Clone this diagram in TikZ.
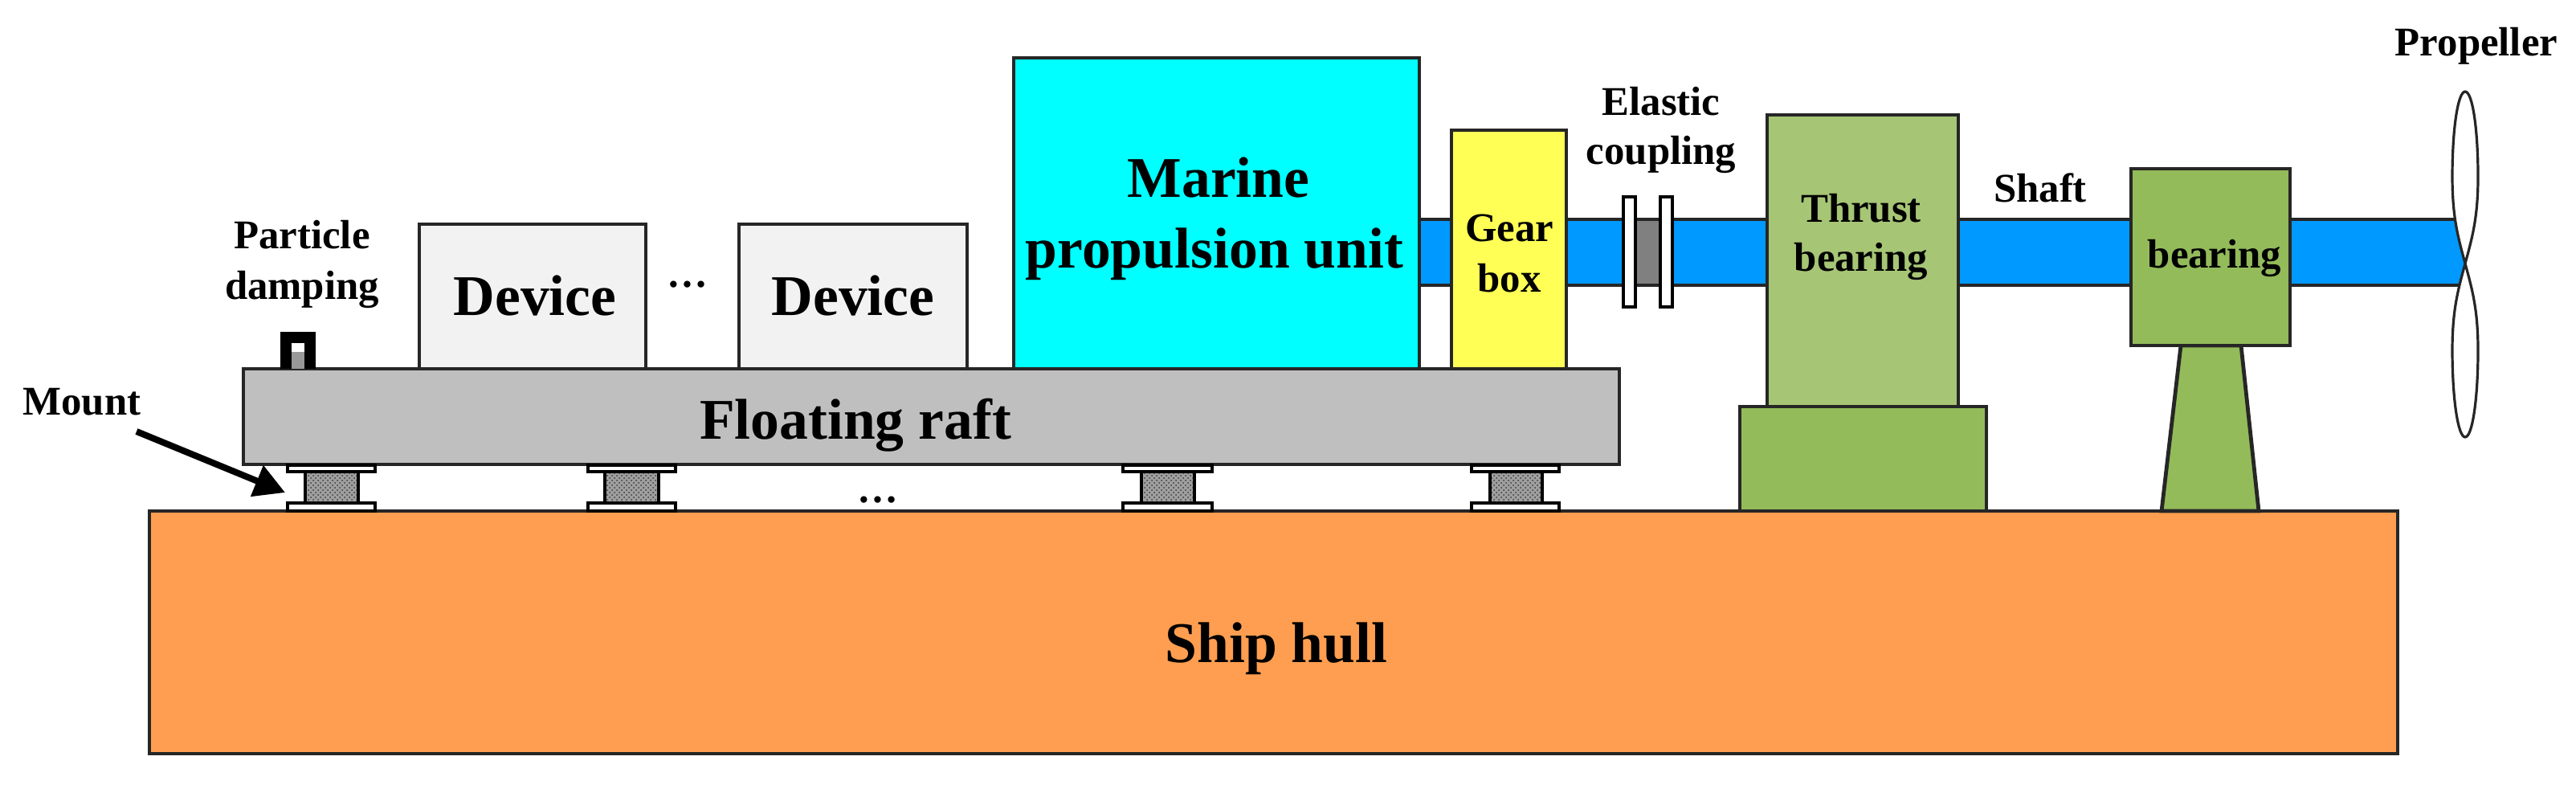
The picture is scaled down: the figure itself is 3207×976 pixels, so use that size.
\documentclass[tikz,border=0pt]{standalone}
\usepackage{fontspec}
\setmainfont{Liberation Serif}
\usetikzlibrary{arrows.meta,patterns}
\definecolor{hullc}{HTML}{FF9E50}
\definecolor{raftc}{HTML}{BFBFBF}
\definecolor{devc}{HTML}{F2F2F2}
\definecolor{engc}{HTML}{00FFFF}
\definecolor{gearc}{HTML}{FFFF55}
\definecolor{shaftc}{HTML}{0099FF}
\definecolor{thrustc}{HTML}{A6C575}
\definecolor{basec}{HTML}{93BB5A}
\definecolor{edgec}{HTML}{262626}
\tikzset{
  part/.style={draw=edgec,line width=2.4pt,line join=miter},
  thinpart/.style={draw=black,line width=1.7pt},
  small/.style={anchor=base,inner sep=0pt,font=\fontsize{25.4}{30}\selectfont\bfseries},
  big/.style={anchor=base,inner sep=0pt,font=\fontsize{35.8}{42}\selectfont\bfseries},
  blade/.style={draw=edgec,line width=1.6pt,fill=white},
}
\newcommand{\mymount}[4]{% plate l, rubber l, rubber r, plate r
  \draw[thinpart,fill=white] (#1,579) rectangle (#4,587);
  \draw[thinpart,fill=white] (#1,626) rectangle (#4,636);
  \draw[thinpart,fill=gray!75] (#2,587) rectangle (#3,626);
  \fill[pattern=crosshatch dots,pattern color=gray!45!black] (#2+2,589) rectangle (#3-2,624);
}
\begin{document}
\begin{tikzpicture}[x=0.5pt,y=-0.5pt]
\useasboundingbox (0,0) rectangle (3207,976);
% hull
\draw[part,fill=hullc] (186,636) rectangle (2985,938);
% shaft
\draw[part,fill=shaftc] (1767,273) rectangle (1807,355);
\draw[part,fill=shaftc] (1950,273) rectangle (2200,355);
\draw[part,fill=black!50] (2036,273) rectangle (2067,355);
\draw[part,fill=shaftc] (2438,273) rectangle (2653,355);
\draw[part,fill=shaftc] (2851,273) rectangle (3069,355);
% coupling plates
\draw[thinpart,fill=white] (2021,245) rectangle (2036,382);
\draw[thinpart,fill=white] (2067,245) rectangle (2082,382);
% raft and its loads
\draw[part,fill=raftc] (303,459) rectangle (2016,578);
\draw[part,fill=devc] (522,279) rectangle (804,459);
\draw[part,fill=devc] (920,279) rectangle (1204,459);
\draw[part,fill=engc] (1262,72) rectangle (1767,459);
\draw[part,fill=gearc] (1807,162) rectangle (1950,459);
% particle damper
\fill[black] (349,413) rectangle (393,459);
\fill[white] (363,427) rectangle (379,440);
\fill[black!40] (363,438) rectangle (379,459);
% thrust bearing
\draw[part,fill=thrustc] (2200,143) rectangle (2438,506);
\draw[part,fill=basec] (2166,506) rectangle (2473,636);
% bearing
\draw[part,fill=basec] (2691,636) -- (2715,430) -- (2790,430) -- (2812,636) -- cycle;
\draw[part,fill=basec] (2653,210) rectangle (2851,430);
% propeller
\draw[blade] (3069,328) .. controls (3060,295) and (3053,270) .. (3053,220) .. controls (3053,160) and (3060,114) .. (3069,114) .. controls (3078,114) and (3085,160) .. (3085,220) .. controls (3085,270) and (3078,295) .. (3069,328) -- cycle;
\draw[blade] (3069,328) .. controls (3060,361) and (3053,386) .. (3053,436) .. controls (3053,496) and (3060,544) .. (3069,544) .. controls (3078,544) and (3085,496) .. (3085,436) .. controls (3085,386) and (3078,361) .. (3069,328) -- cycle;
% mounts
\mymount{358}{380}{446}{467}
\mymount{732}{753}{820}{841}
\mymount{1398}{1421}{1487}{1509}
\mymount{1832}{1855}{1920}{1941}
% labels
\node[small] (lblmount) at (102,516) {Mount};
\node[small] (lblpart) at (376,309) {Particle};
\node[small] (lbldamp) at (376,372) {damping};
\node[big] (lbldev1) at (666,392) {Device};
\node[big] (lbldev2) at (1062,392) {Device};
\node[small] (lbldots1) at (856,357) {…};
\node[small] (lbldots2) at (1093,625) {…};
\node[big] (lblraft) at (1065,546) {Floating raft};
\node[big] (lblhull) at (1589,824) {Ship hull};
\node[big] (lblmarine) at (1517,245) {Marine};
\node[big] (lblprop) at (1512,333) {propulsion unit};
\node[small] (lblgear) at (1879,300) {Gear};
\node[small] (lblbox) at (1879,363) {box};
\node[small] (lblelastic) at (2068,143) {Elastic};
\node[small] (lblcoup) at (2068,204) {coupling};
\node[small] (lblthrust) at (2317,276) {Thrust};
\node[small] (lblthb) at (2317,337) {bearing};
\node[small] (lblshaft) at (2540,251) {Shaft};
\node[small] (lblbear) at (2757,333) {bearing};
\node[small] (lblpropeller) at (3083,69) {Propeller};
% mount arrow
\coordinate (arrowstart) at (170,537);
\coordinate (arrowtip) at (355,613);
\draw[line width=4pt,-{Triangle[length=19pt,width=20pt]}] (arrowstart) -- (arrowtip);
\end{tikzpicture}
\end{document}
